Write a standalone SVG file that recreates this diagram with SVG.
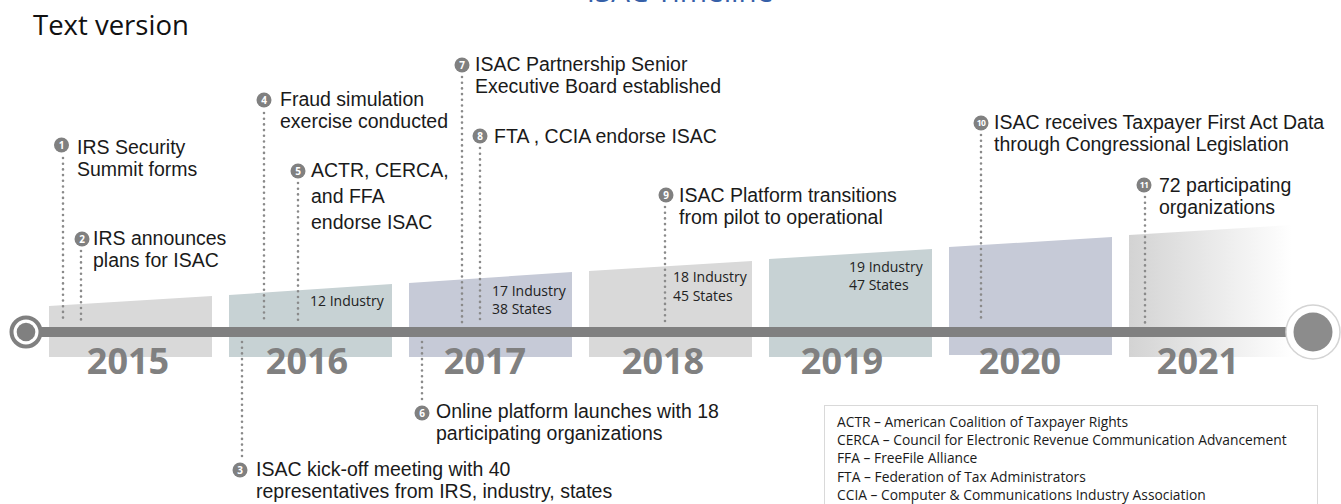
<svg xmlns="http://www.w3.org/2000/svg" width="1341" height="504" viewBox="0 0 1341 504">
<defs>
<linearGradient id="g2021" x1="0" y1="0" x2="1" y2="0">
<stop offset="0" stop-color="#d3d3d3"/>
<stop offset="1" stop-color="#ffffff"/>
</linearGradient>
<style>
.ev{font-family:"Liberation Sans","Open Sans",sans-serif;font-size:19.5px;fill:#1a1a1a}
.cnt{font-family:"Open Sans","DejaVu Sans",sans-serif;font-size:14px;fill:#222}
.yr{font-family:"Open Sans","DejaVu Sans",sans-serif;font-size:36px;font-weight:bold;fill:#808080;text-anchor:middle}
.leg{font-family:"Open Sans","DejaVu Sans",sans-serif;font-size:13.8px;fill:#1a1a1a}
.bd{fill:#808080}
.bn{font-family:"Open Sans","DejaVu Sans",sans-serif;font-size:10px;font-weight:bold;fill:#fff;text-anchor:middle}
.bn2{font-family:"Open Sans","DejaVu Sans",sans-serif;font-size:8.5px;font-weight:bold;fill:#fff;text-anchor:middle;letter-spacing:-0.5px}
.dot{stroke:#8a8a8a;stroke-width:2.6;stroke-linecap:round;stroke-dasharray:0 5.7;fill:none}
</style>
</defs>
<rect width="1341" height="504" fill="#fff"/>
<text x="680" y="2" font-family="'Open Sans','DejaVu Sans',sans-serif" font-size="29.5" fill="#3660a8" text-anchor="middle">ISAC Timeline</text>
<text x="33" y="35" font-family="'Open Sans','DejaVu Sans',sans-serif" font-size="27.5" fill="#111">Text version</text>

<g id="years">
<g id="y2015"><polygon points="49,306 212,296 212,357 49,357" fill="#d9d9d9"/><text class="yr" x="128" y="374">2015</text></g>
<g id="y2016"><polygon points="229,295 392,284 392,357 229,357" fill="#c7d2d4"/><text class="yr" x="307" y="374">2016</text></g>
<g id="y2017"><polygon points="409,283 572,272 572,357 409,357" fill="#c6cad7"/><text class="yr" x="485" y="374">2017</text></g>
<g id="y2018"><polygon points="589,271 752,261 752,357 589,357" fill="#d9d9d9"/><text class="yr" x="663" y="374">2018</text></g>
<g id="y2019"><polygon points="769,259 932,249 932,357 769,357" fill="#c7d2d4"/><text class="yr" x="842" y="374">2019</text></g>
<g id="y2020"><polygon points="949,247 1112,237 1112,355 949,355" fill="#c6cad7"/><text class="yr" x="1020" y="374">2020</text></g>
<g id="y2021"><polygon points="1129,235 1292,225 1292,357 1129,357" fill="url(#g2021)"/><text class="yr" x="1198" y="374">2021</text></g>
</g>

<g id="counts">
<text class="cnt" x="310" y="306">12 Industry</text>
<text class="cnt" x="492" y="296">17 Industry<tspan x="492" dy="18">38 States</tspan></text>
<text class="cnt" x="673" y="282">18 Industry<tspan x="673" dy="19">45 States</tspan></text>
<text class="cnt" x="849" y="272">19 Industry<tspan x="849" dy="18">47 States</tspan></text>
</g>

<g id="connectors">
<line class="dot" x1="63" y1="158" x2="63" y2="322"/>
<line class="dot" x1="81" y1="251" x2="81" y2="322"/>
<line class="dot" x1="264" y1="113" x2="264" y2="322"/>
<line class="dot" x1="298" y1="183" x2="298" y2="322"/>
<line class="dot" x1="242" y1="342" x2="242" y2="456"/>
<line class="dot" x1="422" y1="342" x2="422" y2="399"/>
<line class="dot" x1="462" y1="77" x2="462" y2="323"/>
<line class="dot" x1="480" y1="148" x2="480" y2="323"/>
<line class="dot" x1="665" y1="207" x2="665" y2="323"/>
<line class="dot" x1="981" y1="135" x2="981" y2="323"/>
<line class="dot" x1="1145" y1="197" x2="1145" y2="323"/>
</g>

<g id="axis">
<rect x="38" y="327" width="1254" height="10" fill="#808080"/>
<circle cx="26" cy="332" r="14.5" fill="#fff" stroke="#808080" stroke-width="4"/>
<circle cx="26" cy="332" r="9.3" fill="#808080"/>
<circle cx="1313" cy="332" r="27" fill="#fff" stroke="#d4d4d4" stroke-width="1.5"/>
<circle cx="1313" cy="332" r="19.5" fill="#8c8c8c"/>
</g>

<g id="e1"><circle class="bd" cx="61.5" cy="145" r="7.5"/><text class="bn" x="61.5" y="148.5">1</text>
<text class="ev" x="77" y="154">IRS Security<tspan x="77" dy="22">Summit forms</tspan></text></g>
<g id="e2"><circle class="bd" cx="82" cy="239" r="7.5"/><text class="bn" x="82" y="242.5">2</text>
<text class="ev" x="93" y="245">IRS announces<tspan x="93" dy="22">plans for ISAC</tspan></text></g>
<g id="e3"><circle class="bd" cx="240" cy="470" r="7.5"/><text class="bn" x="240" y="473.5">3</text>
<text class="ev" x="256" y="476">ISAC kick-off meeting with 40<tspan x="256" dy="22">representatives from IRS, industry, states</tspan></text></g>
<g id="e4"><circle class="bd" cx="264" cy="100" r="7.5"/><text class="bn" x="264" y="103.5">4</text>
<text class="ev" x="280" y="106">Fraud simulation<tspan x="280" dy="22">exercise conducted</tspan></text></g>
<g id="e5"><circle class="bd" cx="298" cy="171" r="7.5"/><text class="bn" x="298" y="174.5">5</text>
<text class="ev" x="311" y="177">ACTR, CERCA,<tspan x="311" dy="26">and FFA</tspan><tspan x="311" dy="26">endorse ISAC</tspan></text></g>
<g id="e6"><circle class="bd" cx="422" cy="413" r="7.5"/><text class="bn" x="422" y="416.5">6</text>
<text class="ev" x="436" y="418">Online platform launches with 18<tspan x="436" dy="22">participating organizations</tspan></text></g>
<g id="e7"><circle class="bd" cx="462" cy="65" r="7.5"/><text class="bn" x="462" y="68.5">7</text>
<text class="ev" x="475" y="71">ISAC Partnership Senior<tspan x="475" dy="22">Executive Board established</tspan></text></g>
<g id="e8"><circle class="bd" cx="480" cy="136" r="7.5"/><text class="bn" x="480" y="139.5">8</text>
<text class="ev" x="494" y="143">FTA , CCIA endorse ISAC</text></g>
<g id="e9"><circle class="bd" cx="666" cy="195" r="7.5"/><text class="bn" x="666" y="198.5">9</text>
<text class="ev" x="679" y="202">ISAC Platform transitions<tspan x="679" dy="22">from pilot to operational</tspan></text></g>
<g id="e10"><circle class="bd" cx="981" cy="123" r="7.5"/><text class="bn2" x="981" y="126">10</text>
<text class="ev" x="994" y="129">ISAC receives Taxpayer First Act Data<tspan x="994" dy="22">through Congressional Legislation</tspan></text></g>
<g id="e11"><circle class="bd" cx="1144" cy="185" r="7.5"/><text class="bn2" x="1144" y="188">11</text>
<text class="ev" x="1159" y="192">72 participating<tspan x="1159" dy="22">organizations</tspan></text></g>

<g id="legend">
<rect x="824.5" y="405.5" width="493" height="110" fill="#fff" stroke="#d9d9d9" stroke-width="1"/>
<text class="leg" x="837" y="427">ACTR – American Coalition of Taxpayer Rights<tspan x="837" dy="18">CERCA – Council for Electronic Revenue Communication Advancement</tspan><tspan x="837" dy="18">FFA – FreeFile Alliance</tspan><tspan x="837" dy="19">FTA – Federation of Tax Administrators</tspan><tspan x="837" dy="18">CCIA – Computer &amp; Communications Industry Association</tspan></text>
</g>
</svg>
